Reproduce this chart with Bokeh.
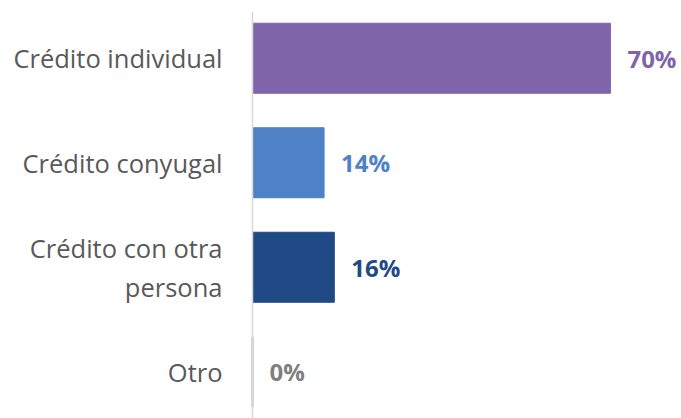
from bokeh.plotting import figure
from bokeh.models import FactorRange, Range1d, ColumnDataSource, Span
from bokeh.core.properties import value
from bokeh.embed import file_html
from bokeh.resources import INLINE

categories = ["Crédito individual", "Crédito conyugal", "Crédito con otra persona", "Otro"]
category_text = ["Crédito individual", "Crédito conyugal", "Crédito con otra\npersona", "Otro"]
values = [70, 14, 16, 0]
value_labels = ["70%", "14%", "16%", "0%"]
bar_colors = ["#8064AA", "#4F81C7", "#1F4A86", "#C4C4CF"]
label_colors = ["#8064AA", "#4F81C7", "#1F4A86", "#7F7F7F"]
bar_edge_widths = [1, 1, 1, 2.5]

FONT = "Open Sans"

src = ColumnDataSource(dict(cat=categories, txt=category_text, val=values,
                            lab=value_labels, bc=bar_colors, lc=label_colors,
                            lw=bar_edge_widths))

y_range = FactorRange(factors=list(reversed(categories)),
                      range_padding=-0.0263, range_padding_units="percent")

p = figure(width=681, height=418, y_range=y_range, x_range=Range1d(-49.28, 83.9),
           output_backend="svg", toolbar_location=None,
           min_border_left=0, min_border_right=0, min_border_top=11,
           min_border_bottom=0)
p.outline_line_color = None
p.background_fill_color = "white"
p.border_fill_color = "white"
p.xgrid.visible = False
p.ygrid.visible = False
p.xaxis.visible = False
p.yaxis.visible = False

p.add_layout(Span(location=0, dimension="height", line_color="#D9D9D9",
                  line_width=1.5))

p.hbar(y="cat", left=0, right="val", height=0.67, fill_color="bc",
       line_color="bc", line_width="lw", source=src)

p.text(x="val", y="cat", text="lab", x_offset=17, text_align="left",
       text_baseline="middle", text_color="lc", text_font=value(FONT),
       text_font_style="bold", text_font_size="24px", source=src)

p.text(x=0, y="cat", text="txt", x_offset=-30, text_align="right",
       text_baseline="middle", text_color="#595959", text_font=value(FONT),
       text_font_size="25.5px", text_line_height=1.15, source=src)

open("out.html", "w").write(file_html(p, INLINE))
